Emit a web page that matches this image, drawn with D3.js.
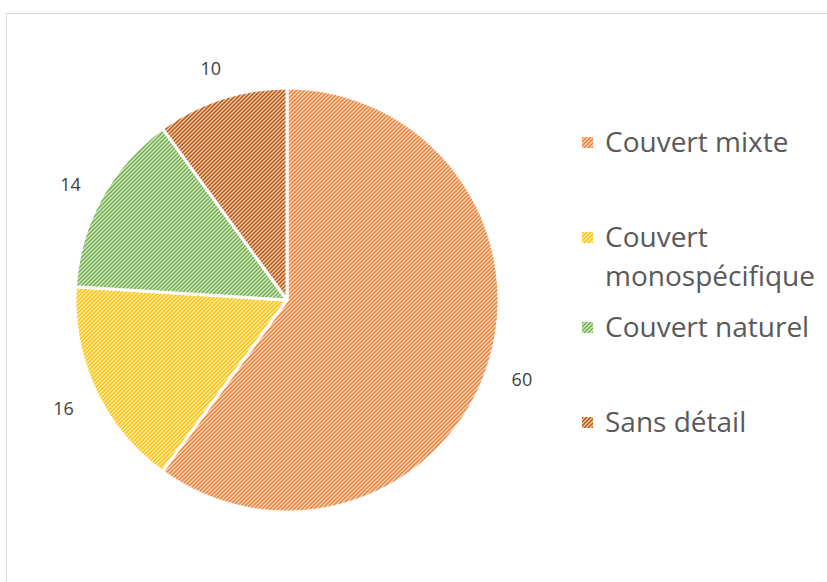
<!DOCTYPE html>
<html>
<head>
<meta charset="utf-8">
<script src="https://cdn.jsdelivr.net/npm/d3@7"></script>
<style>
  body { margin: 0; background: #fff; }
  svg { display: block; font-family: "Open Sans", sans-serif; }
</style>
</head>
<body>
<svg id="chart" width="827" height="582"></svg>
<script>
// data
const categories = ["Couvert mixte", "Couvert monospécifique", "Couvert naturel", "Sans détail"];
const values = [60, 16, 14, 10];
const legendLines = [["Couvert mixte"], ["Couvert", "monospécifique"], ["Couvert naturel"], ["Sans détail"]];
const lineColors = ["#ED7D31", "#FFC000", "#70AD47", "#B4540F"];
const backColors = ["#FBD9C2", "#FFEDB6", "#D7EACB", "#F2CDB2"];

const svg = d3.select("#chart");

// outer frame, right and bottom sides fall off the page
svg.append("rect")
    .attr("x", 6.5).attr("y", 13.5)
    .attr("width", 900).attr("height", 700)
    .attr("fill", "none")
    .attr("stroke", "#d9d9d9")
    .attr("stroke-width", 1);

// hatch patterns (wide upward diagonal)
let defs = svg.append("defs");
categories.forEach(function(c, i) {
    let p = defs.append("pattern")
        .attr("id", "hatch" + i)
        .attr("patternUnits", "userSpaceOnUse")
        .attr("width", 4).attr("height", 4);
    p.append("rect").attr("width", 4).attr("height", 4).attr("fill", backColors[i]);
    p.append("path")
        .attr("d", "M-1,1 l2,-2 M0,4 l4,-4 M3,5 l2,-2")
        .attr("stroke", lineColors[i])
        .attr("stroke-width", 1.5);
});

let cx = 287, cy = 300, radius = 212;

let pie = d3.pie().sort(null).value(function(d) { return d; });
let arcs = pie(values);

let arc = d3.arc().innerRadius(0).outerRadius(radius);
let labelArc = d3.arc().innerRadius(247).outerRadius(247);

let g = svg.append("g").attr("transform", "translate(" + cx + "," + cy + ")");

g.selectAll("path.slice")
    .data(arcs)
    .enter()
    .append("path")
    .attr("class", "slice")
    .attr("d", arc)
    .attr("fill", function(d, i) { return "url(#hatch" + i + ")"; })
    .attr("stroke", "#fff")
    .attr("stroke-width", 3)
    .attr("stroke-linejoin", "round");

g.selectAll("text.lbl")
    .data(arcs)
    .enter()
    .append("text")
    .attr("class", "lbl")
    .attr("transform", function(d) { return "translate(" + labelArc.centroid(d) + ")"; })
    .attr("text-anchor", "middle")
    .attr("dy", "0.55em")
    .attr("font-size", 18)
    .attr("fill", "#404040")
    .text(function(d) { return d.data; });

// legend
let legendY = [142, 237, 327, 422];
let legend = svg.append("g");
categories.forEach(function(c, i) {
    let item = legend.append("g").attr("transform", "translate(582," + legendY[i] + ")");
    item.append("rect")
        .attr("x", 0).attr("y", -5)
        .attr("width", 11).attr("height", 11)
        .attr("fill", "url(#hatch" + i + ")");
    let t = item.append("text")
        .attr("x", 23)
        .attr("font-size", 28)
        .attr("fill", "#595959");
    legendLines[i].forEach(function(line, k) {
        t.append("tspan")
            .attr("x", 23)
            .attr("y", k * 39)
            .attr("dy", "0.35em")
            .text(line);
    });
});
</script>
</body>
</html>
